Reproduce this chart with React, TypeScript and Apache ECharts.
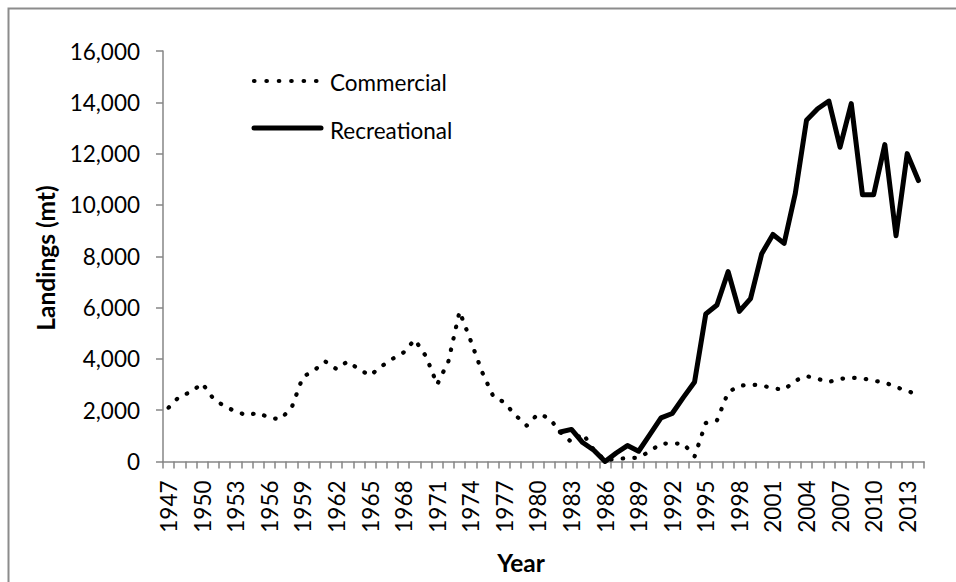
import React, { useEffect, useRef } from "react";
import * as echarts from "echarts";

const years: string[] = [];
for (let y = 1947; y <= 2014; y++) years.push(String(y));

const commercial: number[] = [
  2100, 2550, 2700, 3050, 2450, 2150, 1950, 1800, 1900, 1700, // 1947-1956
  1650, 2100, 3300, 3550, 3900, 3600, 3900, 3600, 3350, 3700, // 1957-1966
  4000, 4250, 4750, 4100, 3000, 3900, 5850, 4700, 3500, 2550, // 1967-1976
  2300, 1800, 1400, 1850, 1700, 1150, 750, 1100, 450, 50, // 1977-1986
  100, 130, 150, 400, 700, 700, 700, 200, 1500, 1600, // 1987-1996
  2700, 2950, 3000, 2970, 2850, 2800, 3150, 3330, 3220, 3100, // 1997-2006
  3220, 3270, 3240, 3150, 3080, 2900, 2750, 2600, // 2007-2014
];

const recreational: (number | null)[] = [
  null, null, null, null, null, null, null, null, null, null, // 1947-1956
  null, null, null, null, null, null, null, null, null, null, // 1957-1966
  null, null, null, null, null, null, null, null, null, null, // 1967-1976
  null, null, null, null, null, 1150, 1250, 740, 440, 0, // 1977-1986
  330, 620, 400, 1050, 1700, 1870, 2500, 3100, 5750, 6100, // 1987-1996
  7400, 5850, 6350, 8100, 8850, 8500, 10450, 13300, 13750, 14050, // 1997-2006
  12250, 13950, 10400, 10400, 12350, 8800, 12000, 10950, // 2007-2014
];

const yTicks = { min: 0, max: 16000, interval: 2000 };
const legendNames = ["Commercial", "Recreational"];
const axisTitles = { x: "Year", y: "Landings (mt)" };

const FONT = "Lato, 'Open Sans', sans-serif";
const AXIS_GRAY = "#868686";

export default function App() {
  const ref = useRef<HTMLDivElement>(null);
  useEffect(() => {
    if (!ref.current) return;
    const chart = echarts.init(ref.current, undefined, { renderer: "svg" });
    chart.setOption({
      animation: false,
      backgroundColor: "#ffffff",
      textStyle: { fontFamily: FONT },
      grid: { left: 163, right: 32, top: 51, bottom: 120.5, containLabel: false },
      xAxis: {
        type: "category",
        data: years,
        boundaryGap: true,
        axisLine: { show: true, lineStyle: { color: AXIS_GRAY, width: 1.5 } },
        axisTick: { show: true, interval: 0, length: 7, lineStyle: { color: AXIS_GRAY, width: 1.5 } },
        axisLabel: {
          interval: 2,
          rotate: 90,
          margin: 19,
          color: "#000",
          fontSize: 22.5,
          fontFamily: FONT,
        },
        splitLine: { show: false },
      },
      yAxis: {
        type: "value",
        min: yTicks.min,
        max: yTicks.max,
        interval: yTicks.interval,
        axisLine: { show: true, lineStyle: { color: AXIS_GRAY, width: 1.5 } },
        axisTick: { show: true, inside: false, length: 7, lineStyle: { color: AXIS_GRAY, width: 1.5 } },
        axisLabel: {
          margin: 23,
          color: "#000",
          fontSize: 22.5,
          fontFamily: FONT,
          formatter: (v: number) => v.toLocaleString("en-US"),
        },
        splitLine: { show: false },
      },
      series: [
        {
          name: legendNames[0],
          type: "line",
          data: commercial,
          symbol: "none",
          showSymbol: false,
          lineStyle: { color: "#000", width: 4.2, type: [0.5, 11.2], cap: "round", join: "round" },
        },
        {
          name: legendNames[1],
          type: "line",
          data: recreational,
          symbol: "none",
          showSymbol: false,
          connectNulls: false,
          lineStyle: { color: "#000", width: 5, type: "solid", cap: "round", join: "round" },
        },
      ],
      graphic: [
        {
          type: "rect",
          shape: { x: 8.5, y: 8.5, width: 1200, height: 1200 },
          style: { fill: "none", stroke: "#8c8c8c", lineWidth: 2 },
          silent: true,
        },
        {
          type: "line",
          shape: { x1: 254, y1: 81, x2: 316.5, y2: 81 },
          style: { stroke: "#000", lineWidth: 4.2, lineDash: [0.5, 11.9], lineCap: "round" },
        },
        {
          type: "line",
          shape: { x1: 254, y1: 128, x2: 321, y2: 128 },
          style: { stroke: "#000", lineWidth: 5, lineCap: "round" },
        },
        {
          type: "text",
          x: 330,
          y: 82,
          style: { text: legendNames[0], fill: "#000", font: `22.5px ${FONT}`, align: "left", verticalAlign: "middle" },
        },
        {
          type: "text",
          x: 330,
          y: 130,
          style: { text: legendNames[1], fill: "#000", font: `22.5px ${FONT}`, align: "left", verticalAlign: "middle" },
        },
        {
          type: "text",
          x: 45,
          y: 258,
          rotation: Math.PI / 2,
          style: { text: axisTitles.y, fill: "#000", font: `bold 24.5px ${FONT}`, align: "center", verticalAlign: "middle" },
        },
        {
          type: "text",
          x: 521,
          y: 562,
          style: { text: axisTitles.x, fill: "#000", font: `bold 24.5px ${FONT}`, align: "center", verticalAlign: "middle" },
        },
      ],
    });
    return () => chart.dispose();
  }, []);
  return (
    <div
      ref={ref}
      style={{ position: "absolute", left: 0, top: 0, width: 956, height: 582 }}
    />
  );
}
